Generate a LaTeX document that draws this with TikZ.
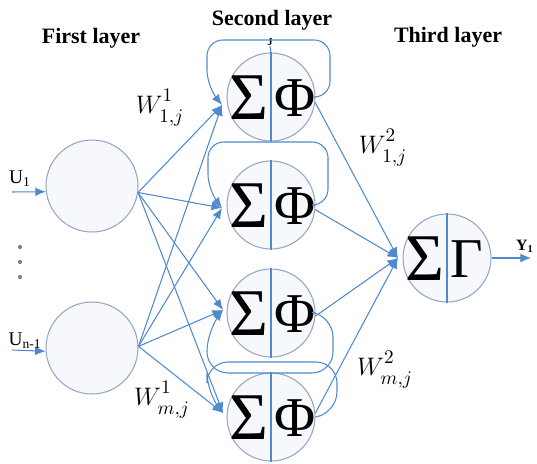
\documentclass[tikz,border=0pt]{standalone}
\usepackage{fontspec}
\setmainfont{Liberation Serif}
\usetikzlibrary{arrows.meta, positioning, calc}
\definecolor{wireblue}{RGB}{78,138,205}
\definecolor{rimgray}{RGB}{150,165,195}
\definecolor{cellfill}{RGB}{246,248,252}
\newcommand{\wlabel}[2]{$W^{\raisebox{1.5pt}{$\scriptstyle #1$}}_{\raisebox{-1.5pt}{$\scriptstyle #2$}}$}

\begin{document}
\begin{tikzpicture}[x=0.02cm, y=-0.02cm,
    neuron/.style={circle, draw=rimgray, fill=cellfill, line width=0.6pt, minimum size=1.76cm, inner sep=0pt},
    input/.style={neuron, minimum size=1.84cm},
    wire/.style={wireblue, line width=0.6pt, -{Latex[length=6pt,width=5pt]}},
    divider/.style={wireblue, line width=0.6pt},
    layertitle/.style={font=\fontsize{12.5}{13}\selectfont\bfseries},
    bigsym/.style={font=\fontsize{38}{38}\selectfont, inner sep=0pt},
    midsym/.style={font=\fontsize{32}{32}\selectfont, inner sep=0pt},
    weight/.style={font=\fontsize{15}{15}\selectfont}]
\useasboundingbox (0,0) rectangle (537,463);

% layer titles
\node[layertitle] (t1) at (91,38) {First layer};
\node[layertitle] (t2) at (272,20) {Second layer};
\node[layertitle] (t3) at (448,37) {Third layer};

% first layer
\node[input] (u1) at (92,186) {};
\node[input] (u2) at (92,348) {};
\coordinate (a1) at (12,192);
\coordinate (a2) at (12,350);
\draw[wire] (a1) -- (u1.187);
\draw[wire] (a2) -- (u2.184);
\node[font=\fontsize{11}{11}\selectfont] (lu1) at (20,179) {U\textsubscript{1}};
\node[font=\fontsize{11}{11}\selectfont] (lu2) at (25,341) {U\textsubscript{n-1}};
\foreach \d in {247,262,277}
    \fill[gray] (20,\d) circle (1.2pt);

% second layer
\foreach \n/\y in {1/97, 2/205, 3/313, 4/417} {
    \node[neuron] (h\n) at (271,\y) {};
    \draw[divider] (h\n.north) -- (h\n.south);
    \node[bigsym, anchor=east] (s\n) at ($(h\n.center)+(-2,1)$) {Σ};
    \node[midsym, anchor=west] (f\n) at ($(h\n.center)+(3,1)$) {Φ};
}
\draw[divider] (h1.north) -- (270,46);
\node[font=\fontsize{6}{6}\selectfont\bfseries] (jmark) at (270,42) {J};

% entry points
\coordinate (e1) at (222,105);
\coordinate (e2) at (222,208);
\coordinate (e3) at (223,310);
\coordinate (e4) at (223,413);

% third layer
\node[neuron] (g) at (447,258) {};
\draw[divider] (g.north) -- (g.south);
\node[bigsym, anchor=east] (sg) at ($(g.center)+(-2,1)$) {Σ};
\node[midsym, anchor=west] (gg) at ($(g.center)+(3,1)$) {Γ};
\coordinate (eg) at (398,258);
\coordinate (yend) at (531,258);
\draw[wire] (g.east) -- (yend);
\node[font=\fontsize{9}{9}\selectfont\bfseries] (y1) at (525,246) {Y\textsubscript{1}};

% first to second layer
\foreach \i/\a in {1/-8, 2/2}
    \foreach \n in {1,...,4}
        \draw[wire] (u\i.\a) -- (e\n);

% recurrent loops
\draw[wire] (h1.east) [rounded corners=9pt] -- (330,97) -- (330,40) -- (207,40) -- (207,86) [sharp corners] -- (e1);
\draw[wire] (h2.east) [rounded corners=9pt] -- (328,205) -- (328,142) -- (208,142) -- (208,190) [sharp corners] -- (e2);
\draw[wire] (h3.east) [rounded corners=12pt] -- (333,316) -- (333,373) -- (207,373) -- (207,330) [sharp corners] -- (e3);
\draw[wire] (h4.east) [rounded corners=12pt] -- (337,413) -- (337,362) -- (207,362) -- (207,394) [sharp corners] -- (e4);

% second to third layer
\foreach \n/\a in {1/-7, 2/-6, 3/-4, 4/5}
    \draw[wire] (h\n.\a) -- (eg);

% weights
\node[weight] (w11) at (160,108) {\wlabel{1}{1,j}};
\node[weight] (wm1) at (162,400) {\wlabel{1}{m,j}};
\node[weight] (w12) at (383,148) {\wlabel{2}{1,j}};
\node[weight] (wm2) at (385,370) {\wlabel{2}{m,j}};
\end{tikzpicture}
\end{document}
